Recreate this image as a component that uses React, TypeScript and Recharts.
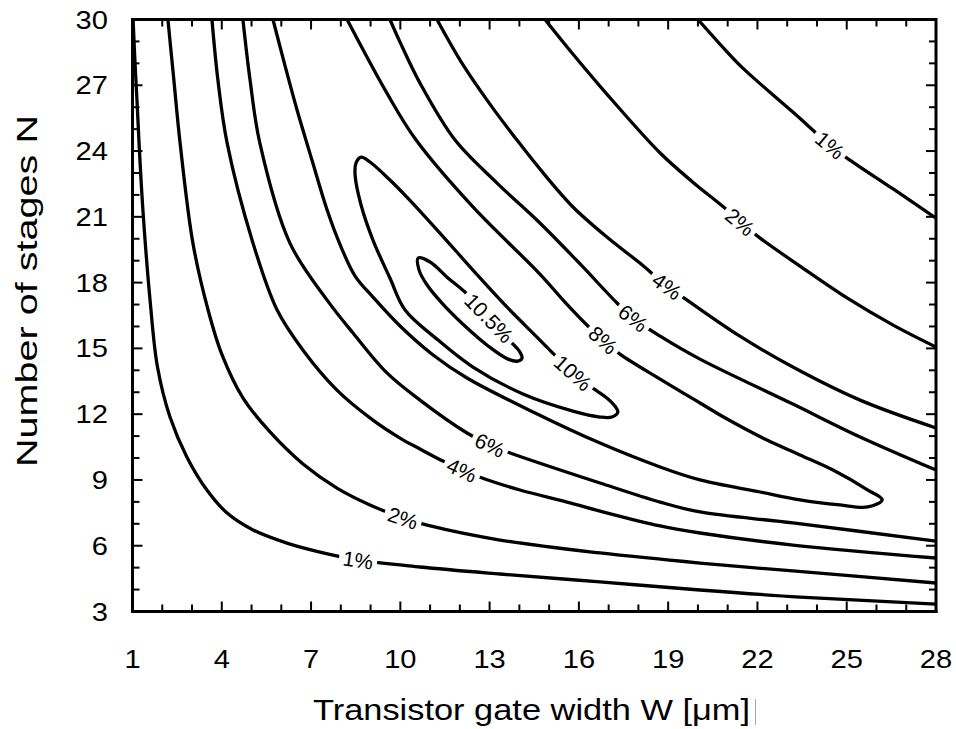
import React from 'react';
import { ComposedChart, Line, Scatter, XAxis, YAxis, ReferenceArea } from 'recharts';

type P = [number, number];

const xTickValues = [1, 2, 3, 4, 5, 6, 7, 8, 9, 10, 11, 12, 13, 14, 15, 16, 17, 18, 19, 20, 21, 22, 23, 24, 25, 26, 27, 28];
const yTickValues = [3, 4, 5, 6, 7, 8, 9, 10, 11, 12, 13, 14, 15, 16, 17, 18, 19, 20, 21, 22, 23, 24, 25, 26, 27, 28, 29, 30];
const xLabelValues = [1, 4, 7, 10, 13, 16, 19, 22, 25, 28];
const yLabelValues = [3, 6, 9, 12, 15, 18, 21, 24, 27, 30];

const xTitle = 'Transistor gate width W [μm]';
const yTitle = 'Number of stages N';

// contour lines, points as [W, N]
const lower1: P[] = [[1.02, 30], [1.08, 28.15], [1.15, 26.33], [1.22, 24.36], [1.35, 21.31], [1.59, 17.2], [1.84, 14.15], [2.26, 11.87], [2.83, 10.04], [3.5, 8.54], [4.18, 7.49], [5.05, 6.72], [6.19, 6.12], [7.3, 5.71], [8.58, 5.35], [10.66, 5.03], [13.35, 4.71], [16.71, 4.35], [20.07, 3.98], [23.43, 3.66], [28, 3.34]];
const lower2: P[] = [[2.19, 30], [2.39, 27.24], [2.6, 24.36], [3.03, 19.8], [3.54, 16.75], [4.01, 14.7], [4.71, 12.74], [5.62, 11.19], [6.73, 9.73], [7.87, 8.63], [8.98, 7.86], [10.09, 7.26], [10.9, 6.94], [13.35, 6.26], [16.71, 5.67], [20.07, 5.21], [23.19, 4.85], [28, 4.3]];
const lower4: P[] = [[3.67, 30], [3.87, 27.24], [4.18, 24.36], [5.05, 19.8], [5.86, 16.75], [6.73, 14.92], [7.87, 13.1], [9.08, 11.73], [9.99, 10.91], [10.66, 10.41], [11.43, 9.86], [12.07, 9.45], [12.84, 9.04], [14.02, 8.54], [15.6, 7.99], [16.71, 7.58], [18.73, 6.9], [20.07, 6.58], [23.19, 6.03], [28, 5.44]];
const lower6: P[] = [[4.71, 30], [4.95, 27.24], [5.28, 24.36], [6.29, 19.8], [7.54, 17.2], [8.41, 15.7], [9.55, 13.88], [10.66, 12.64], [12.24, 11.14], [13.01, 10.59], [13.69, 10.23], [16.71, 8.86], [18.73, 7.99], [20.07, 7.54], [23.19, 7.04], [28, 6.21]];
const level8: P[] = [[5.72, 30], [6.12, 27.92], [6.53, 25.87], [7.03, 23.59], [7.54, 21.31], [8.01, 19.62], [8.48, 18.3], [9.08, 17.34], [9.99, 16.02], [11.1, 14.7], [12.24, 13.65], [14.46, 12.1], [16.71, 10.68], [18.73, 9.59], [20.07, 9.0], [22.09, 8.45], [23.43, 8.09], [24.77, 7.86], [25.71, 7.77], [26.19, 8.09], [25.71, 8.54], [24.54, 9.45], [23.43, 10.14], [22.32, 10.82], [20.98, 11.78], [20.07, 12.51], [18.73, 13.6], [17.38, 14.74], [16.81, 15.38], [16.37, 15.93], [15.53, 17.11], [14.69, 18.39], [12.44, 21.45], [10.53, 24.5], [9.55, 26.64], [8.21, 30]];
const upper6: P[] = [[9.65, 30], [9.99, 28.97], [10.66, 27.1], [11.84, 24.5], [13.25, 22.54], [14.69, 20.72], [16.04, 18.85], [17.28, 17.07], [17.82, 16.38], [18.73, 15.56], [20.07, 14.51], [23.19, 12.46], [25.45, 10.96], [28, 9.45]];
const upper4: P[] = [[11.23, 30], [12.07, 28.01], [13.01, 26.14], [13.92, 24.5], [14.86, 22.9], [15.8, 21.45], [16.94, 20.08], [18.05, 18.89], [18.96, 17.84], [19.73, 17.11], [21.41, 15.56], [23.19, 14.15], [25.45, 12.64], [28, 11.37]];
const upper2: P[] = [[14.86, 30], [15.77, 28.47], [16.88, 26.69], [18.73, 23.91], [19.83, 22.58], [20.98, 21.31], [21.41, 20.76], [22.09, 20.03], [23.43, 18.75], [25.01, 17.3], [26.56, 16.06], [28, 15.06]];
const upper1: P[] = [[20.0, 30], [20.74, 28.88], [21.51, 27.78], [23.19, 25.78], [24.44, 24.27], [25.01, 23.68], [26.56, 22.27], [28, 20.94]];
const loop10: P[] = [[12.44, 14.15], [11.27, 15.38], [10.16, 16.75], [9.65, 18.21], [9.08, 19.94], [8.68, 21.54], [8.48, 22.9], [8.51, 23.45], [8.68, 23.72], [8.98, 23.5], [9.65, 22.68], [10.22, 21.9], [11.33, 20.26], [12.44, 18.57], [13.58, 16.89], [14.69, 15.38], [15.26, 14.6], [15.8, 13.88], [16.47, 13.19], [16.94, 12.74], [17.21, 12.37], [17.31, 12.1], [17.11, 11.87], [16.71, 11.87], [15.8, 12.14], [14.12, 12.92], [12.44, 14.15]];
const loop105: P[] = [[11.43, 17.02], [10.9, 17.89], [10.63, 18.57], [10.6, 19.12], [11.0, 18.94], [11.57, 18.25], [12.24, 17.48], [12.98, 16.38], [13.72, 15.29], [14.02, 14.83], [14.09, 14.56], [13.95, 14.42], [13.62, 14.51], [12.95, 15.11], [12.17, 16.02], [11.43, 17.02]];

const contourLabels = [
  { w: 24.44, n: 24.27, text: '1%', angle: 40 },
  { w: 21.41, n: 20.76, text: '2%', angle: 40 },
  { w: 18.96, n: 17.84, text: '4%', angle: 36 },
  { w: 17.82, n: 16.38, text: '6%', angle: 38 },
  { w: 16.81, n: 15.38, text: '8%', angle: 42 },
  { w: 15.8, n: 13.88, text: '10%', angle: 42 },
  { w: 12.98, n: 16.38, text: '10.5%', angle: 46 },
  { w: 13.01, n: 10.59, text: '6%', angle: 25 },
  { w: 12.07, n: 9.45, text: '4%', angle: 25 },
  { w: 10.09, n: 7.26, text: '2%', angle: 18 },
  { w: 8.58, n: 5.35, text: '1%', angle: 8 },
];

const contours: P[][] = [lower1, lower2, lower4, lower6, level8, upper6, upper4, upper2, upper1, loop10, loop105];

const toRows = (pts: P[]) => pts.map(([w, n]) => ({ w, n }));

// layout
const CHART_W = 956;
const CHART_H = 729;
const MARGIN = { top: 19.5, right: 20, bottom: 17.5, left: 32.5 };
const Y_AXIS_W = 100;
const X_AXIS_H = 100;
const PLOT_W = CHART_W - MARGIN.left - MARGIN.right - Y_AXIS_W;
const PLOT_H = CHART_H - MARGIN.top - MARGIN.bottom - X_AXIS_H;

const FONT = '"Liberation Sans", Arial, Helvetica, sans-serif';
const AXIS_LINE = { stroke: '#000', strokeWidth: 3, strokeLinecap: 'square' as const };

// centripetal Catmull-Rom curve (d3 curve interface), closes smoothly when first == last
function smoothCurve(context: any) {
  let pts: number[][] = [];
  const seg = (p0: number[], p1: number[], p2: number[], p3: number[]) => {
    const d = (a: number[], b: number[]) => Math.hypot(b[0] - a[0], b[1] - a[1]);
    const l01 = Math.sqrt(d(p0, p1));
    const l12 = Math.sqrt(d(p1, p2));
    const l23 = Math.sqrt(d(p2, p3));
    const l01s = l01 * l01;
    const l12s = l12 * l12;
    const l23s = l23 * l23;
    let c1x = p1[0];
    let c1y = p1[1];
    let c2x = p2[0];
    let c2y = p2[1];
    if (l01 > 1e-6) {
      const a = 2 * l01s + 3 * l01 * l12 + l12s;
      const n = 3 * l01 * (l01 + l12);
      c1x = (p1[0] * a - p0[0] * l12s + p2[0] * l01s) / n;
      c1y = (p1[1] * a - p0[1] * l12s + p2[1] * l01s) / n;
    }
    if (l23 > 1e-6) {
      const b = 2 * l23s + 3 * l23 * l12 + l12s;
      const m = 3 * l23 * (l23 + l12);
      c2x = (p2[0] * b + p1[0] * l23s - p3[0] * l12s) / m;
      c2y = (p2[1] * b + p1[1] * l23s - p3[1] * l12s) / m;
    }
    context.bezierCurveTo(c1x, c1y, c2x, c2y, p2[0], p2[1]);
  };
  return {
    areaStart() {},
    areaEnd() {},
    lineStart() {
      pts = [];
    },
    point(x: number, y: number) {
      pts.push([+x, +y]);
    },
    lineEnd() {
      const n = pts.length;
      if (!n) return;
      context.moveTo(pts[0][0], pts[0][1]);
      if (n === 1) return;
      const closed = n > 3 && Math.abs(pts[0][0] - pts[n - 1][0]) < 1e-6 && Math.abs(pts[0][1] - pts[n - 1][1]) < 1e-6;
      for (let i = 0; i < n - 1; i++) {
        const p0 = i > 0 ? pts[i - 1] : closed ? pts[n - 2] : pts[0];
        const p3 = i + 2 < n ? pts[i + 2] : closed ? pts[1] : pts[n - 1];
        seg(p0, pts[i], pts[i + 1], p3);
      }
    },
  };
}

function BottomTick(props: any) {
  const { x, y, payload } = props;
  const v = payload.value as number;
  const major = xLabelValues.includes(v);
  const len = major ? 10 : 7;
  const top = y - PLOT_H;
  return (
    <g>
      <line x1={x} y1={y} x2={x} y2={y - len} stroke="#000" strokeWidth={2} />
      <line x1={x} y1={top} x2={x} y2={top + len} stroke="#000" strokeWidth={2} />
      {major ? (
        <text transform={`translate(${x},${y + 56.5}) scale(1.12,1)`} textAnchor="middle" fontFamily={FONT} fontSize={26} fill="#000">
          {v}
        </text>
      ) : null}
    </g>
  );
}

function LeftTick(props: any) {
  const { x, y, payload } = props;
  const v = payload.value as number;
  const major = yLabelValues.includes(v);
  const len = major ? 10 : 7;
  const right = x + PLOT_W;
  return (
    <g>
      <line x1={x} y1={y} x2={x + len} y2={y} stroke="#000" strokeWidth={2} />
      <line x1={right} y1={y} x2={right - len} y2={y} stroke="#000" strokeWidth={2} />
      {major ? (
        <text transform={`translate(${x - 24.5},${y + 9}) scale(1.12,1)`} textAnchor="end" fontFamily={FONT} fontSize={26} fill="#000">
          {v}
        </text>
      ) : null}
    </g>
  );
}

function XTitle(props: any) {
  const vb = props.viewBox || { x: 132.5, y: 611.5, width: 803.5, height: 100 };
  const cx = vb.x + vb.width / 2 - 2.75;
  const by = vb.y + 108.5;
  return (
    <g>
      <text x={cx} y={by} textAnchor="middle" fontFamily={FONT} fontSize={30} fill="#000" textLength={437} lengthAdjust="spacingAndGlyphs">
        {xTitle}
      </text>
      <line x1={cx + 224} x2={cx + 224} y1={by - 21} y2={by + 5} stroke="#aaa" strokeWidth={1} />
    </g>
  );
}

function YTitle(props: any) {
  const vb = props.viewBox || { x: 32.5, y: 19.5, width: 100, height: 592 };
  const bx = vb.x + 4.5;
  const cy = vb.y + vb.height / 2 - 24.5;
  return (
    <text transform={`translate(${bx},${cy}) rotate(-90)`} textAnchor="middle" fontFamily={FONT} fontSize={30} fill="#000" textLength={352} lengthAdjust="spacingAndGlyphs">
      {yTitle}
    </text>
  );
}

const charW: Record<string, number> = { '%': 0.889, '.': 0.278 };
const textWidth = (t: string, fs: number) => t.split('').reduce((s, c) => s + (charW[c] ?? 0.556), 0) * fs;

function ContourLabel(props: any) {
  const { cx, cy, payload } = props;
  if (cx == null || cy == null || !payload) return <g />;
  const fs = 21;
  const w = textWidth(payload.text, fs) + 8;
  return (
    <g transform={`translate(${cx},${cy}) rotate(${payload.angle})`}>
      <rect x={-w / 2} y={-6} width={w} height={12} fill="#fff" />
      <text x={0} y={7.5} textAnchor="middle" fontFamily={FONT} fontSize={fs} fill="#000">
        {payload.text}
      </text>
    </g>
  );
}

export default function App() {
  return (
    <div style={{ position: 'absolute', left: 0, top: 0, width: CHART_W, height: CHART_H, background: '#fff' }}>
      <ComposedChart width={CHART_W} height={CHART_H} margin={MARGIN}>
        <XAxis
          dataKey="w"
          type="number"
          domain={[1, 28]}
          ticks={xTickValues}
          interval={0}
          allowDataOverflow
          height={X_AXIS_H}
          tickSize={0}
          tickMargin={0}
          tickLine={false}
          axisLine={AXIS_LINE}
          tick={BottomTick}
          label={<XTitle />}
        />
        <YAxis
          dataKey="n"
          type="number"
          domain={[3, 30]}
          ticks={yTickValues}
          interval={0}
          allowDataOverflow
          width={Y_AXIS_W}
          tickSize={0}
          tickMargin={0}
          tickLine={false}
          axisLine={AXIS_LINE}
          tick={LeftTick}
          label={<YTitle />}
        />
        <ReferenceArea x1={1} x2={28} y1={3} y2={30} fill="none" fillOpacity={0} stroke="#000" strokeWidth={3} ifOverflow="visible" />
        {contours.map((c, i) => (
          <Line
            key={`c${i}`}
            data={toRows(c)}
            dataKey="n"
            type={smoothCurve as any}
            stroke="#000"
            strokeWidth={3.3}
            dot={false}
            activeDot={false}
            isAnimationActive={false}
          />
        ))}
        <Scatter data={contourLabels} dataKey="n" shape={ContourLabel} isAnimationActive={false} />
      </ComposedChart>
    </div>
  );
}
